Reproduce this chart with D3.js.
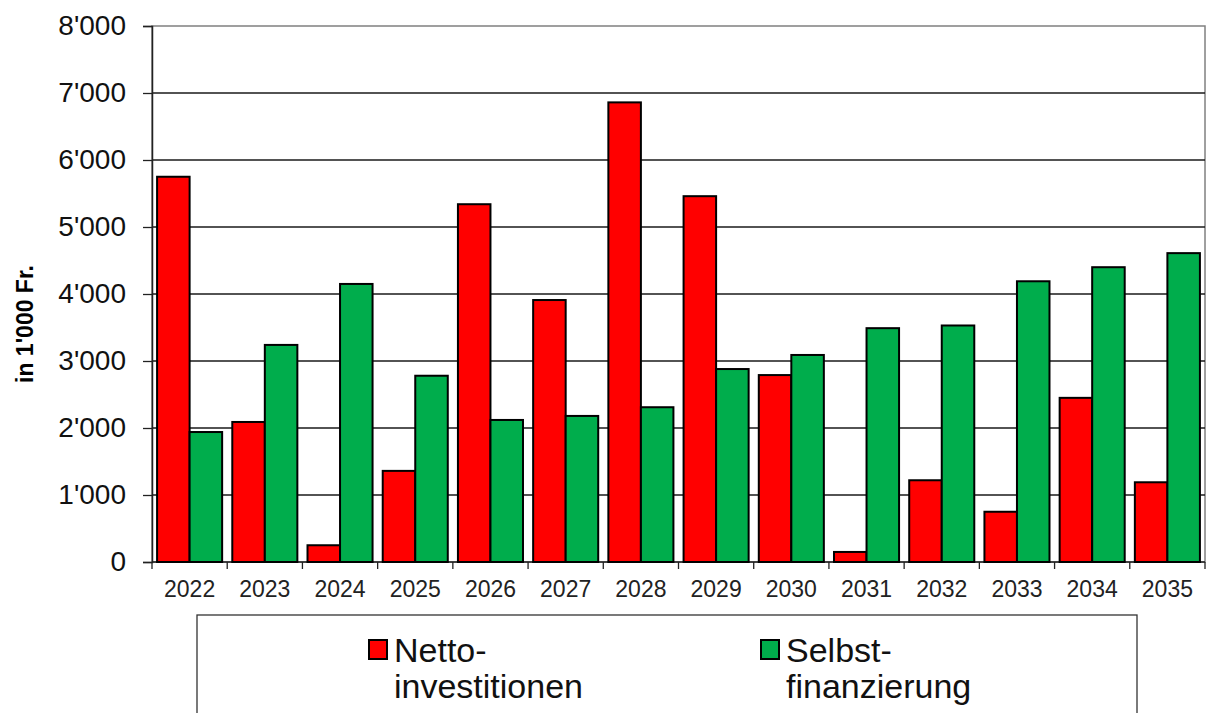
<!DOCTYPE html>
<html>
<head>
<meta charset="utf-8">
<script src="https://cdn.jsdelivr.net/npm/d3@7"></script>
<style>
  body { margin: 0; background: #fff; }
  svg { display: block; font-family: "Liberation Sans", Arial, sans-serif; }
</style>
</head>
<body>
<div id="chart"></div>
<script>
var years = ["2022","2023","2024","2025","2026","2027","2028","2029","2030","2031","2032","2033","2034","2035"];
var netto = [5750, 2090, 250, 1360, 5340, 3910, 6860, 5460, 2790, 150, 1220, 750, 2450, 1190];
var selbst = [1940, 3240, 4150, 2780, 2120, 2180, 2310, 2880, 3090, 3490, 3530, 4190, 4400, 4610];
var yTicks = [0, 1000, 2000, 3000, 4000, 5000, 6000, 7000, 8000];
var seriesNames = [["Netto-", "investitionen"], ["Selbst-", "finanzierung"]];
var colors = ["#ff0000", "#00ad4c"];

var W = 1210, H = 713;
var margin = {top: 26, right: 5, bottom: 151, left: 152},
  width = W - margin.left - margin.right,
  height = H - margin.top - margin.bottom;

var svg = d3.select("#chart").append("svg")
  .attr("width", W)
  .attr("height", H);

var g = svg.append("g")
  .attr("transform", "translate(" + margin.left + "," + margin.top + ")");

var x = d3.scaleBand()
  .domain(years)
  .range([0, width])
  .paddingInner(0.135)
  .paddingOuter(0.0675);

var x1 = d3.scaleBand()
  .domain([0, 1])
  .range([0, x.bandwidth()]);

var y = d3.scaleLinear()
  .domain([0, 8000])
  .range([height, 0]);

var fmt = function(d) { return d3.format(",")(d).replace(/,/g, "'"); };

// plot frame (top + right in grey)
g.append("rect")
  .attr("x", 0).attr("y", 0)
  .attr("width", width).attr("height", height)
  .attr("fill", "none")
  .attr("stroke", "#808080")
  .attr("stroke-width", 1.5);

// gridlines
g.selectAll(".grid")
  .data(yTicks.slice(1, -1))
  .join("line")
  .attr("x1", 0).attr("x2", width)
  .attr("y1", function(d) { return y(d); })
  .attr("y2", function(d) { return y(d); })
  .attr("stroke", "#1a1a1a")
  .attr("stroke-width", 1.3);

// Y axis
var yAxis = g.append("g")
  .call(d3.axisLeft(y).tickValues(yTicks).tickFormat(fmt).tickSize(9).tickPadding(17));
yAxis.select(".domain").attr("stroke", "#222").attr("stroke-width", 1.5);
yAxis.selectAll(".tick line").attr("stroke", "#222").attr("stroke-width", 1.3);
yAxis.selectAll("text")
  .style("font-size", "28px")
  .style("font-family", "Liberation Sans, Arial, sans-serif")
  .attr("fill", "#111");

// X axis: ticks at category boundaries
var xAxis = g.append("g")
  .attr("transform", "translate(0," + height + ")");
xAxis.append("line")
  .attr("x1", 0).attr("x2", width)
  .attr("stroke", "#222").attr("stroke-width", 1.5);
xAxis.selectAll(".xt")
  .data(years.concat(["end"]))
  .join("line")
  .attr("x1", function(d, i) { return i * x.step(); })
  .attr("x2", function(d, i) { return i * x.step(); })
  .attr("y1", 0).attr("y2", 7)
  .attr("stroke", "#222").attr("stroke-width", 1.3);
xAxis.selectAll(".xl")
  .data(years)
  .join("text")
  .attr("x", function(d) { return x(d) + x.bandwidth() / 2; })
  .attr("y", 35)
  .attr("text-anchor", "middle")
  .style("font-size", "23px")
  .attr("fill", "#222")
  .text(function(d) { return d; });

// bars
var groups = g.selectAll(".yr")
  .data(years)
  .join("g")
  .attr("transform", function(d) { return "translate(" + x(d) + ",0)"; });

groups.selectAll("rect")
  .data(function(d, i) { return [netto[i], selbst[i]]; })
  .join("rect")
  .attr("x", function(d, k) { return x1(k); })
  .attr("y", function(d) { return y(d); })
  .attr("width", x1.bandwidth())
  .attr("height", function(d) { return height - y(d); })
  .attr("fill", function(d, k) { return colors[k]; })
  .attr("stroke", "#000")
  .attr("stroke-width", 2);

// Y title
svg.append("text")
  .attr("transform", "translate(33,324) rotate(-90)")
  .attr("text-anchor", "middle")
  .style("font-size", "23px")
  .style("font-weight", "bold")
  .text("in 1'000 Fr.");

// legend
var leg = svg.append("g");
leg.append("rect")
  .attr("x", 197).attr("y", 615)
  .attr("width", 940).attr("height", 120)
  .attr("fill", "#fff")
  .attr("stroke", "#333")
  .attr("stroke-width", 1.3);

var legX = [369, 761];
seriesNames.forEach(function(lines, i) {
  leg.append("rect")
    .attr("x", legX[i]).attr("y", 640)
    .attr("width", 18).attr("height", 19)
    .attr("fill", colors[i])
    .attr("stroke", "#000")
    .attr("stroke-width", 2);
  var t = leg.append("text")
    .attr("x", legX[i] + 25)
    .attr("y", 662)
    .style("font-size", "34px")
    .attr("fill", "#111");
  lines.forEach(function(l, j) {
    t.append("tspan")
      .attr("x", legX[i] + 25)
      .attr("dy", j === 0 ? 0 : 36)
      .text(l);
  });
});
</script>
</body>
</html>
